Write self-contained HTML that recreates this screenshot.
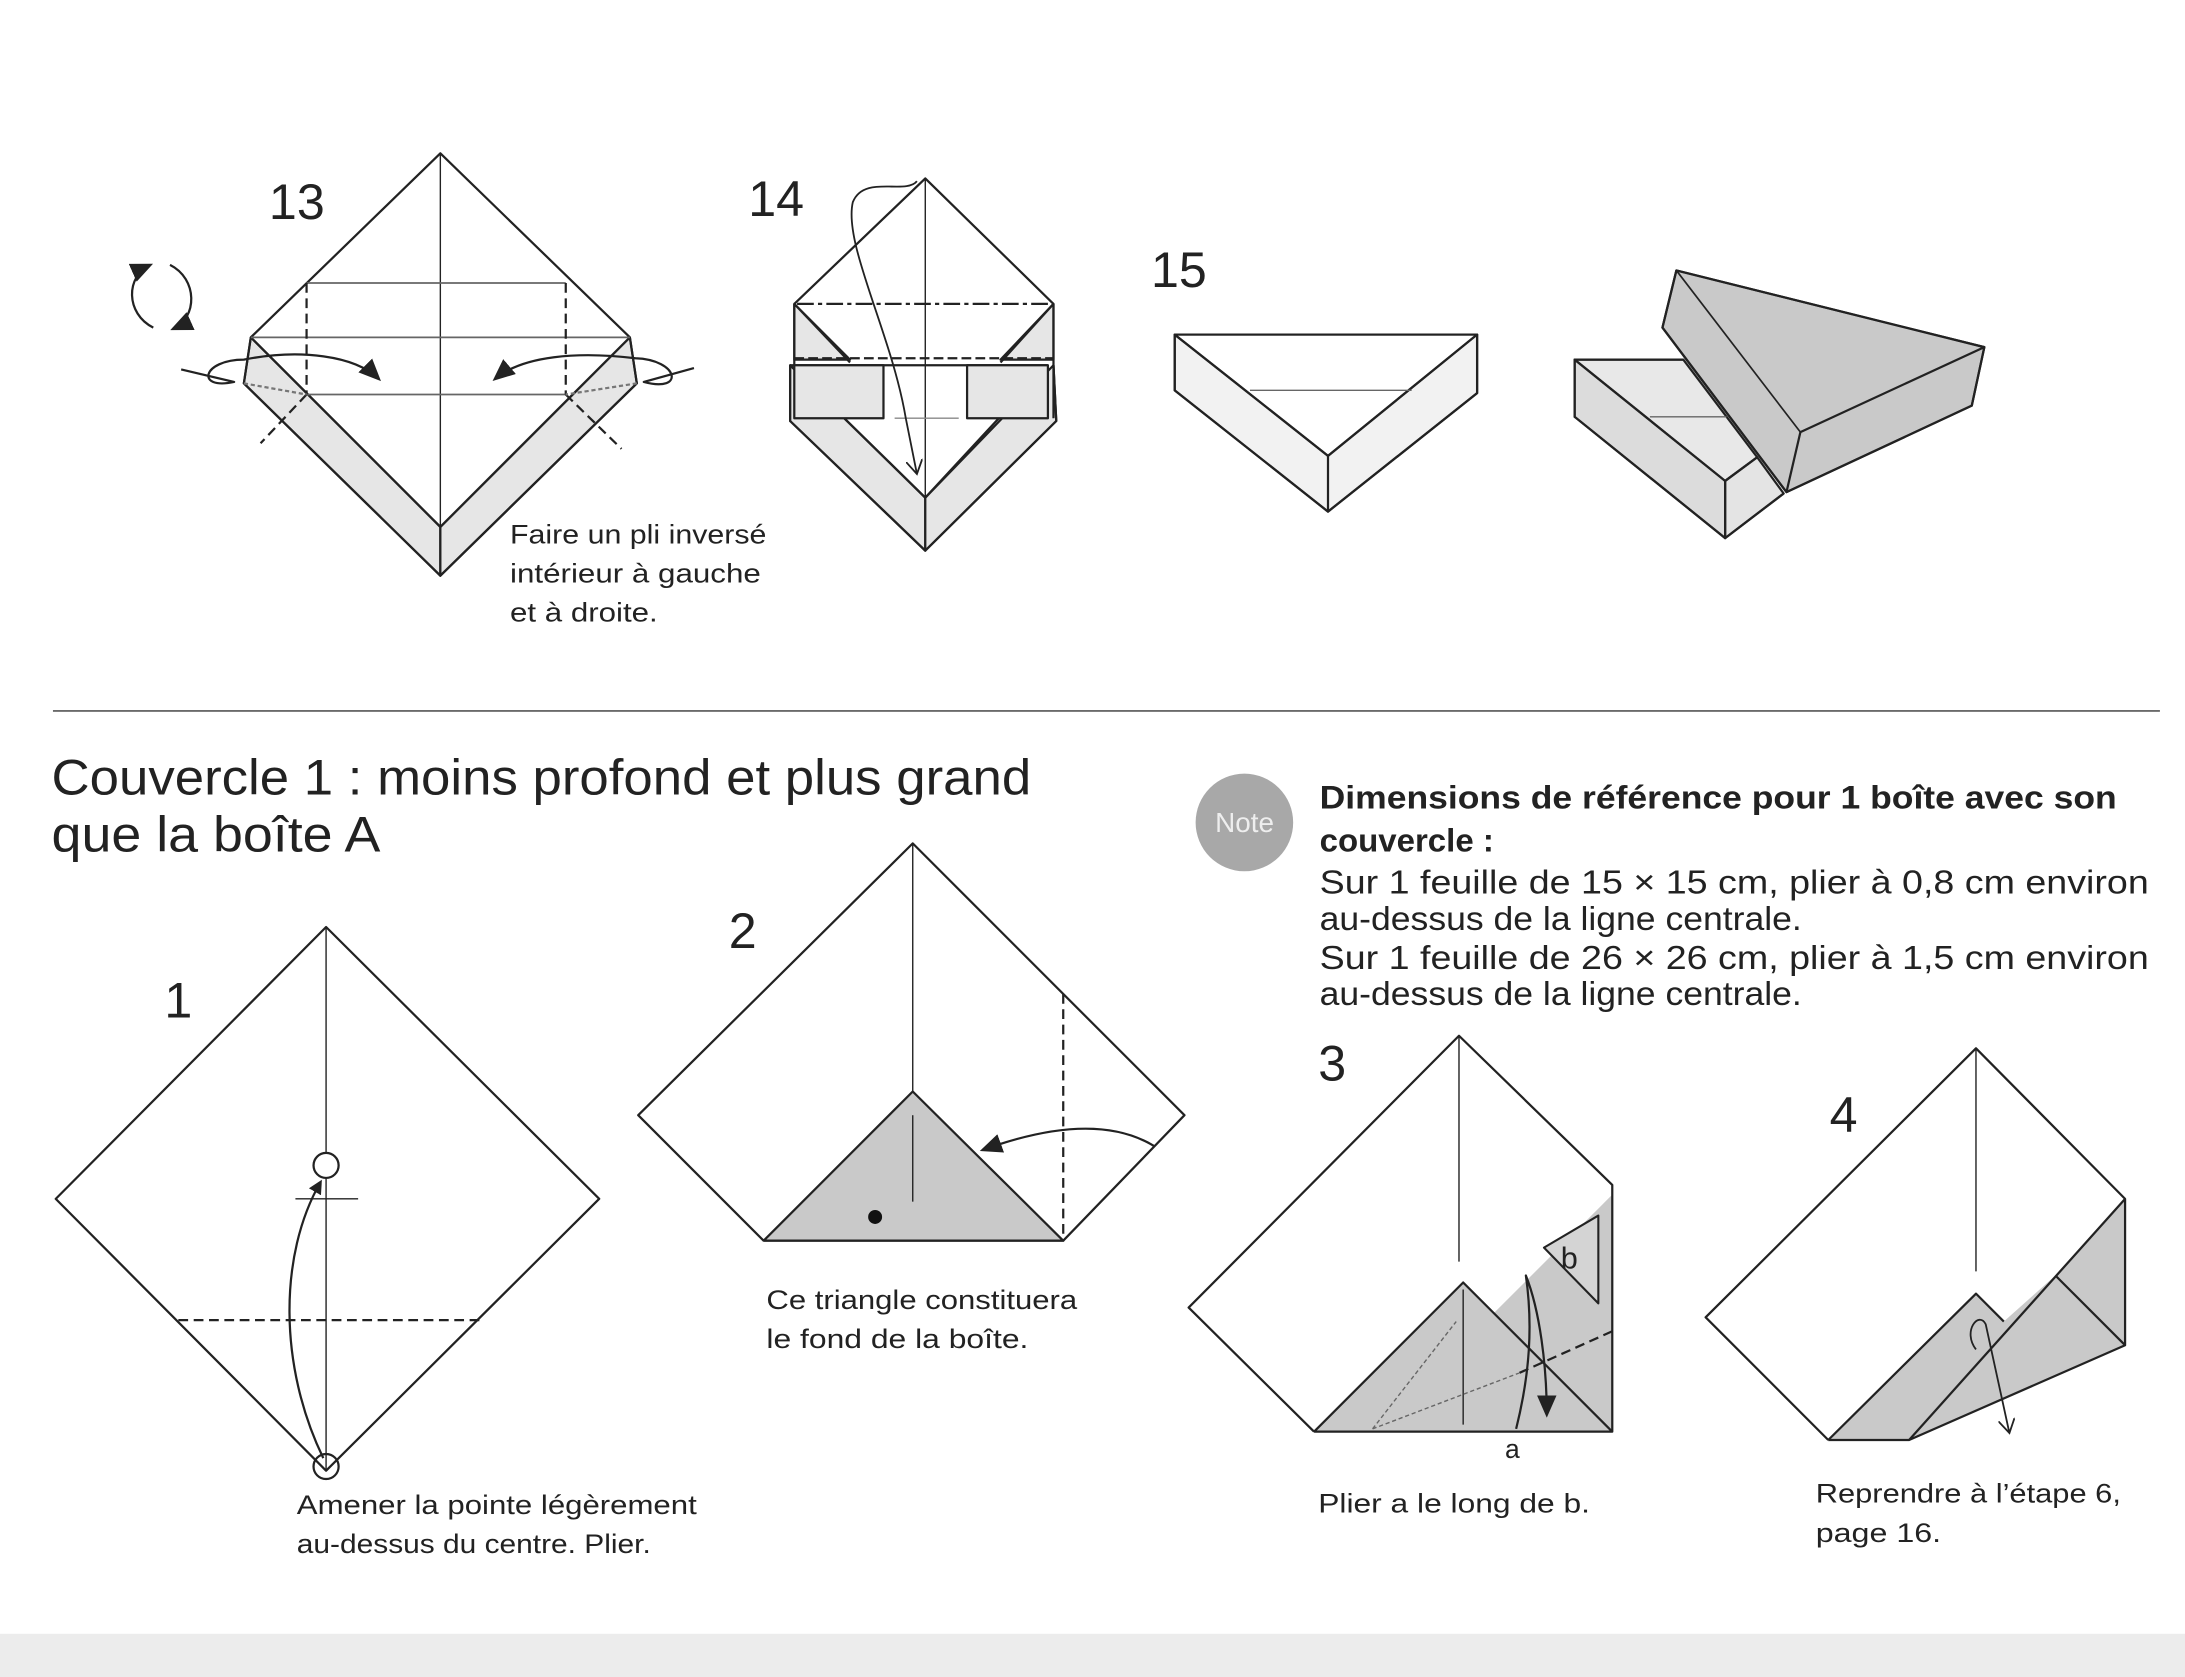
<!DOCTYPE html>
<html><head><meta charset="utf-8"><style>
html,body{margin:0;padding:0;background:#fff}
svg{display:block}
text{font-family:"Liberation Sans",sans-serif;fill:#222}
</style></head><body>
<svg width="2185" height="1677" viewBox="0 0 1568 1203" preserveAspectRatio="none" xmlns="http://www.w3.org/2000/svg">
<defs>
<marker id="ah" markerWidth="10" markerHeight="10" refX="8" refY="5" orient="auto" markerUnits="userSpaceOnUse"><path d="M0,0 L10,5 L0,10 z" fill="#222"/></marker>
<marker id="ah2" markerWidth="16" markerHeight="14" refX="14" refY="7" orient="auto" markerUnits="userSpaceOnUse"><path d="M0,0 L16,7 L0,14 z" fill="#222"/></marker>
<marker id="ao" markerWidth="12" markerHeight="12" refX="10" refY="6" orient="auto" markerUnits="userSpaceOnUse"><path d="M0,0 L10,6 L0,12" fill="none" stroke="#222" stroke-width="1.3"/></marker>
</defs>
<rect width="1568" height="1203" fill="#fff"/>
<g stroke="#222" stroke-width="1.6" fill="none" stroke-linejoin="round">
<!-- Step 13 -->
<polygon points="180,242 175,275 316,413 316,378" fill="#e6e6e6"/>
<polygon points="452,242 457,275 316,413 316,378" fill="#e6e6e6"/>
<polyline points="180,242 316,110 452,242"/>
<polyline points="180,242 175,275 316,413 457,275 452,242"/>
<polyline points="180,242 316,378 452,242"/>
<line x1="316" y1="110" x2="316" y2="413" stroke-width="1"/>
<line x1="220" y1="203" x2="406" y2="203" stroke="#666" stroke-width="1.3"/>
<line x1="180" y1="242" x2="452" y2="242" stroke="#666" stroke-width="1.3"/>
<line x1="220" y1="283" x2="406" y2="283" stroke="#666" stroke-width="1.3"/>
<line x1="220" y1="203" x2="220" y2="283" stroke-dasharray="7,4"/>
<line x1="406" y1="203" x2="406" y2="283" stroke-dasharray="7,4"/>
<line x1="220" y1="283" x2="187" y2="318" stroke-dasharray="7,4"/>
<line x1="406" y1="283" x2="446" y2="322" stroke-dasharray="7,4"/>
<line x1="175" y1="275" x2="220" y2="283" stroke="#777" stroke-dasharray="3,2"/>
<line x1="457" y1="275" x2="406" y2="283" stroke="#777" stroke-dasharray="3,2"/>
<path d="M130,265 L168,274 C140,280 145,258 175,258 C215,250 255,255 272,272" marker-end="url(#ah2)"/>
<path d="M498,264 L462,274 C492,282 487,258 456,257 C415,252 375,255 355,272" marker-end="url(#ah2)"/>
<path d="M110,235 C90,225 90,198 108,190" marker-end="url(#ah2)"/>
<path d="M122,190 C142,200 142,228 124,236" marker-end="url(#ah2)"/>
<!-- Step 14 -->
<polygon points="570,218 610,258 570,258" fill="#e6e6e6"/>
<polygon points="756,218 718,258 756,258" fill="#e6e6e6"/>
<polygon points="567,262 567,302 664,395 664,357" fill="#e6e6e6"/>
<polygon points="756,262 758,302 664,395 664,357" fill="#e6e6e6"/>
<polyline points="570,218 664,128 756,218"/>
<line x1="570" y1="218" x2="570" y2="262"/>
<line x1="756" y1="218" x2="756" y2="300"/>
<line x1="570" y1="218" x2="610" y2="260"/>
<line x1="756" y1="218" x2="718" y2="260"/>
<polyline points="567,262 567,302 664,395 758,302 756,262"/>
<polyline points="567,262 664,357 752,262"/>
<line x1="567" y1="262" x2="752" y2="262"/>
<rect x="570" y="262" width="64" height="38" fill="#e6e6e6"/>
<rect x="694" y="262" width="58" height="38" fill="#e6e6e6"/>
<line x1="664" y1="128" x2="664" y2="395" stroke-width="1"/>
<line x1="642" y1="300" x2="688" y2="300" stroke="#888" stroke-width="1"/>
<line x1="572" y1="218" x2="756" y2="218" stroke-dasharray="12,3,3,3"/>
<line x1="570" y1="257" x2="756" y2="257" stroke-dasharray="7,3"/>
<path d="M658,130 C650,140 620,125 612,145 C605,175 640,240 650,300 L658,340" stroke-width="1.3" marker-end="url(#ao)"/>
<!-- Step 15 -->
<polygon points="843,240 1060,240 1060,282 953,367 843,280" fill="#f2f2f2"/>
<polygon points="843,240 1060,240 953,327" fill="#fff"/>
<polyline points="843,240 1060,240 953,327 843,240"/>
<polyline points="843,240 843,280 953,367 1060,282 1060,240"/>
<line x1="953" y1="327" x2="953" y2="367"/>
<line x1="897" y1="280" x2="1013" y2="280" stroke="#666" stroke-width="1"/>
<!-- box and lid -->
<polygon points="1130,258 1208,258 1261,328 1238,345 1130,299" fill="#e8e8e8"/>
<polygon points="1130,258 1130,299 1238,386 1238,345" fill="#dcdcdc"/>
<polygon points="1238,345 1261,328 1280,354 1238,386" fill="#e4e4e4"/>
<polyline points="1208,258 1130,258 1130,299 1238,386 1280,354"/>
<polyline points="1130,258 1238,345 1238,386"/>
<line x1="1238" y1="345" x2="1261" y2="328"/>
<line x1="1184" y1="299" x2="1239" y2="299" stroke="#666" stroke-width="1"/>
<polygon points="1203,194 1424,249 1415,291 1282,353 1193,235" fill="#c9c9c9"/>
<polyline points="1203,194 1424,249 1415,291 1282,353 1292,310 1424,249"/>
<polyline points="1203,194 1193,235 1282,353"/>
<line x1="1203" y1="194" x2="1292" y2="310" stroke-width="1.2"/>
</g>
<text x="193" y="157" font-size="36">13</text>
<text x="537" y="155" font-size="36">14</text>
<text x="826" y="206" font-size="36">15</text>
<text font-size="19" lengthAdjust="spacingAndGlyphs"><tspan x="366" y="390" textLength="184" lengthAdjust="spacingAndGlyphs">Faire un pli inversé</tspan><tspan x="366" y="418" textLength="180" lengthAdjust="spacingAndGlyphs">intérieur à gauche</tspan><tspan x="366" y="446" textLength="106" lengthAdjust="spacingAndGlyphs">et à droite.</tspan></text>
<line x1="38" y1="510" x2="1550" y2="510" stroke="#555" stroke-width="1.2"/>
<text font-size="36"><tspan x="37" y="570" textLength="703" lengthAdjust="spacingAndGlyphs">Couvercle 1 : moins profond et plus grand</tspan><tspan x="37" y="611" textLength="236" lengthAdjust="spacingAndGlyphs">que la boîte A</tspan></text>
<circle cx="893" cy="590" r="35" fill="#a8a8a8"/>
<text x="872" y="597" font-size="20" style="fill:#eee">Note</text>
<text font-size="23" font-weight="bold"><tspan x="947" y="580" textLength="572" lengthAdjust="spacingAndGlyphs">Dimensions de référence pour 1 boîte avec son</tspan><tspan x="947" y="611" textLength="125" lengthAdjust="spacingAndGlyphs">couvercle :</tspan></text>
<text font-size="24"><tspan x="947" y="641" textLength="595" lengthAdjust="spacingAndGlyphs">Sur 1 feuille de 15 × 15 cm, plier à 0,8 cm environ</tspan><tspan x="947" y="667" textLength="346" lengthAdjust="spacingAndGlyphs">au-dessus de la ligne centrale.</tspan><tspan x="947" y="695" textLength="595" lengthAdjust="spacingAndGlyphs">Sur 1 feuille de 26 × 26 cm, plier à 1,5 cm environ</tspan><tspan x="947" y="721" textLength="346" lengthAdjust="spacingAndGlyphs">au-dessus de la ligne centrale.</tspan></text>
<g stroke="#222" stroke-width="1.6" fill="none" stroke-linejoin="round">
<!-- Step 1 -->
<polygon points="234,665 430,860 234,1055 40,860"/>
<line x1="234" y1="665" x2="234" y2="1055" stroke-width="1"/>
<circle cx="234" cy="836" r="9" fill="#fff"/>
<line x1="212" y1="860" x2="257" y2="860" stroke-width="1"/>
<line x1="128" y1="947" x2="347" y2="947" stroke-dasharray="7,4"/>
<circle cx="234" cy="1052" r="9"/>
<path d="M232,1046 C200,980 200,900 230,848" marker-end="url(#ah)"/>
<!-- Step 2 -->
<polyline points="548,890 458,800 655,605 850,800 763,890 548,890"/>
<polygon points="548,890 655,783 763,890" fill="#c9c9c9"/>
<line x1="655" y1="605" x2="655" y2="783" stroke-width="1"/>
<line x1="655" y1="800" x2="655" y2="862" stroke-width="1"/>
<circle cx="628" cy="873" r="5" fill="#111" stroke="none"/>
<line x1="763" y1="713" x2="763" y2="890" stroke-dasharray="7,4"/>
<path d="M828,822 C800,805 760,805 705,825" marker-end="url(#ah2)"/>
<!-- Step 3 -->
<polygon points="943,1027 1050,920 1072,942 1157,857 1157,1027" fill="#c9c9c9" stroke="none"/>
<polyline points="943,1027 853,938 1047,743 1157,850 1157,1027 943,1027"/>
<polyline points="943,1027 1050,920 1157,1027"/>
<line x1="1047" y1="743" x2="1047" y2="905" stroke-width="1"/>
<line x1="1050" y1="925" x2="1050" y2="1022" stroke-width="1"/>
<polygon points="1108,895 1147,872 1147,935" fill="#d4d4d4" stroke-width="1.5"/>
<line x1="1157" y1="955" x2="1090" y2="985" stroke-dasharray="7,4"/>
<line x1="985" y1="1025" x2="1090" y2="985" stroke="#666" stroke-width="1" stroke-dasharray="3,2"/>
<line x1="985" y1="1025" x2="1045" y2="948" stroke="#666" stroke-width="1" stroke-dasharray="3,2"/>
<path d="M1088,1025 C1098,985 1100,950 1095,915 C1105,940 1110,980 1110,1015" marker-end="url(#ah2)"/>
<!-- Step 4 -->
<polygon points="1312,1033 1418,928 1438,948 1475,915 1525,860 1525,965 1370,1033" fill="#c9c9c9" stroke="none"/>
<polyline points="1312,1033 1224,945 1418,752 1525,860 1525,965 1370,1033 1312,1033"/>
<polyline points="1312,1033 1418,928 1438,948"/>
<line x1="1370" y1="1033" x2="1525" y2="860"/>
<line x1="1475" y1="915" x2="1525" y2="965"/>
<line x1="1418" y1="752" x2="1418" y2="912" stroke-width="1"/>
<path d="M1418,968 C1408,955 1420,940 1425,950 L1442,1028" stroke-width="1.3" marker-end="url(#ao)"/>
</g>
<text x="118" y="730" font-size="36">1</text>
<text x="523" y="680" font-size="36">2</text>
<text x="946" y="775" font-size="36">3</text>
<text x="1313" y="812" font-size="36">4</text>
<text x="1120" y="910" font-size="22">b</text>
<text x="1080" y="1046" font-size="19">a</text>
<text font-size="19"><tspan x="213" y="1086" textLength="287" lengthAdjust="spacingAndGlyphs">Amener la pointe légèrement</tspan><tspan x="213" y="1114" textLength="254" lengthAdjust="spacingAndGlyphs">au-dessus du centre. Plier.</tspan></text>
<text font-size="19"><tspan x="550" y="939" textLength="223" lengthAdjust="spacingAndGlyphs">Ce triangle constituera</tspan><tspan x="550" y="967" textLength="188" lengthAdjust="spacingAndGlyphs">le fond de la boîte.</tspan></text>
<text x="946" y="1085" font-size="19" textLength="195" lengthAdjust="spacingAndGlyphs">Plier a le long de b.</text>
<text font-size="19"><tspan x="1303" y="1078" textLength="219" lengthAdjust="spacingAndGlyphs">Reprendre à l’étape 6,</tspan><tspan x="1303" y="1106" textLength="90" lengthAdjust="spacingAndGlyphs">page 16.</tspan></text>
<rect x="0" y="1172" width="1568" height="31" fill="#ececec"/>
</svg>
</body></html>
